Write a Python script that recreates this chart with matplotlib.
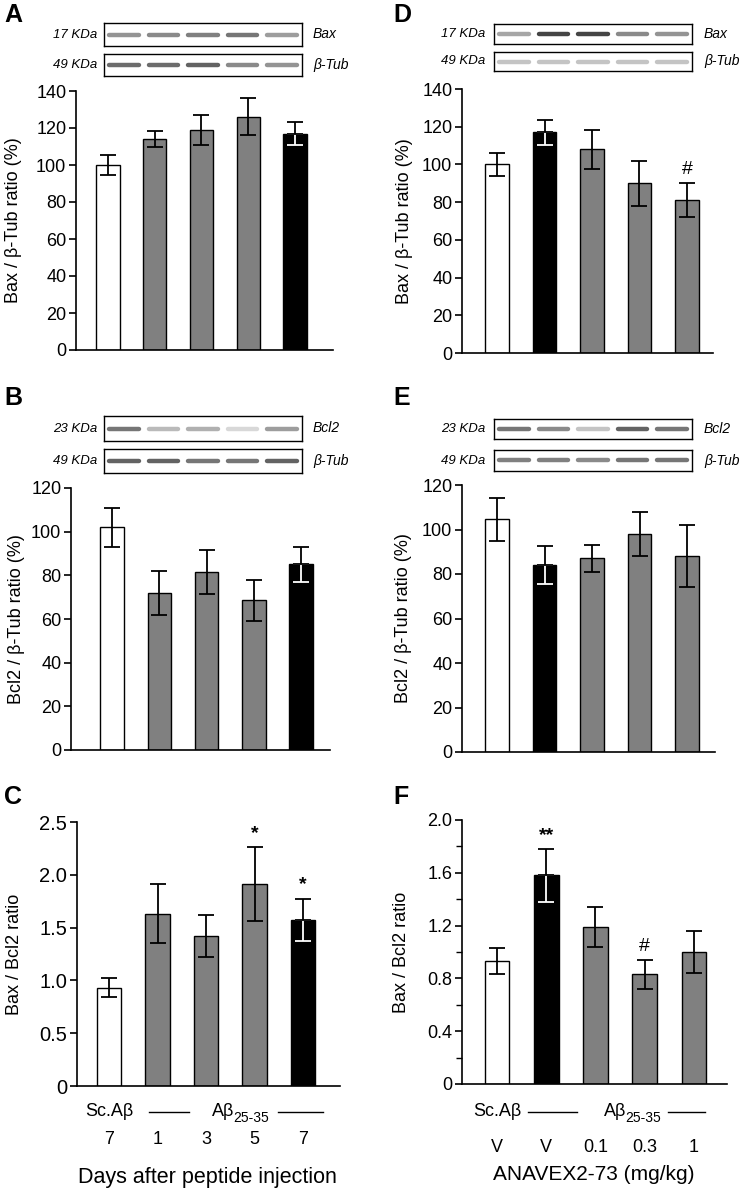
import matplotlib
matplotlib.use("Agg")
import matplotlib.pyplot as plt
from matplotlib.transforms import blended_transform_factory
from matplotlib.ticker import MultipleLocator

plt.rcParams['font.family'] = ['Liberation Sans', 'DejaVu Sans']

# ---------------- data ----------------
groups = ["Sc.Aβ", "Aβ25-35", "Aβ25-35", "Aβ25-35", "Aβ25-35"]
days = ["7", "1", "3", "5", "7"]
doses = ["V", "V", "0.1", "0.3", "1"]

bax_A = [100, 114, 119, 126, 117]
bax_A_err = [5.5, 4.5, 8, 10, 6]
bcl2_B = [102, 72, 81.5, 68.5, 85]
bcl2_B_err = [9, 10, 10, 9.5, 8]
ratio_C = [0.93, 1.63, 1.42, 1.91, 1.575]
ratio_C_err = [0.09, 0.28, 0.2, 0.35, 0.2]
sig_C = ["", "", "", "*", "*"]

bax_D = [100, 117, 108, 90, 81]
bax_D_err = [6, 6.5, 10.5, 12, 9]
sig_D = ["", "", "", "", "#"]
bcl2_E = [104.5, 84, 87, 98, 88]
bcl2_E_err = [9.5, 8.5, 6, 10, 14]
ratio_F = [0.93, 1.58, 1.19, 0.83, 1.0]
ratio_F_err = [0.1, 0.2, 0.15, 0.11, 0.16]
sig_F = ["", "**", "", "#", ""]

# blot band intensities (0 = none, 1 = black)
blot_A_bax = [0.55, 0.6, 0.65, 0.7, 0.5]
blot_A_tub = [0.75, 0.75, 0.8, 0.6, 0.55]
blot_B_bcl2 = [0.7, 0.35, 0.4, 0.2, 0.5]
blot_B_tub = [0.8, 0.8, 0.7, 0.7, 0.8]
blot_D_bax = [0.45, 0.95, 0.95, 0.6, 0.55]
blot_D_tub = [0.3, 0.3, 0.3, 0.3, 0.3]
blot_E_bcl2 = [0.7, 0.6, 0.3, 0.8, 0.7]
blot_E_tub = [0.65, 0.65, 0.6, 0.7, 0.7]

W, H = 750, 1197
fig = plt.figure(figsize=(W / 100, H / 100), dpi=100)

WHITE, GRAY, BLACK = "#ffffff", "#808080", "#000000"
left_colors = [WHITE, GRAY, GRAY, GRAY, BLACK]
right_colors = [WHITE, BLACK, GRAY, GRAY, GRAY]
CAP = 5.5


def px_axes(l, t, r, b):
    return fig.add_axes([l / W, 1 - b / H, (r - l) / W, (b - t) / H])


def bar_panel(box, xlim, ylim, yticks, ticklabels, vals, errs, colors, ylabel,
              label_x, letter, letter_xy, sig=None, minor=None, tick_fs=13):
    ax = px_axes(*box)
    x = list(range(len(vals)))
    ax.bar(x, vals, width=0.5, color=colors, edgecolor="black", linewidth=1.0, zorder=2)
    for i, (v, e, c) in enumerate(zip(vals, errs, colors)):
        if c == BLACK:
            ax.errorbar([i], [v], yerr=[[e], [0]], color="white", capsize=CAP,
                        elinewidth=1.3, capthick=1.3, zorder=3)
            ax.errorbar([i], [v], yerr=[[0], [e]], color="black", capsize=CAP,
                        elinewidth=1.3, capthick=1.3, zorder=3)
        else:
            ax.errorbar([i], [v], yerr=[[e], [e]], color="black", capsize=CAP,
                        elinewidth=1.3, capthick=1.3, zorder=3)
        if sig and sig[i]:
            ax.text(i, v + e + (ylim[1] * 0.02), sig[i], ha="center", va="bottom",
                    fontsize=14, fontweight="bold" if "*" in sig[i] else "normal")
    ax.set_xlim(*xlim)
    ax.set_ylim(*ylim)
    ax.set_yticks(yticks)
    ax.set_yticklabels(ticklabels, fontsize=tick_fs)
    if minor:
        ax.yaxis.set_minor_locator(MultipleLocator(minor))
        ax.tick_params(axis="y", which="minor", length=4, width=1.0)
    ax.set_xticks([])
    for s in ["top", "right"]:
        ax.spines[s].set_visible(False)
    ax.spines["left"].set_linewidth(1.2)
    ax.spines["bottom"].set_linewidth(1.2)
    ax.tick_params(axis="y", length=5, width=1.2, pad=2)
    ax.set_ylabel(ylabel, fontsize=13)
    cy = 1 - ((box[1] + box[3]) / 2) / H
    ax.yaxis.set_label_coords(label_x / W, cy, transform=fig.transFigure)
    fig.text(letter_xy[0] / W, 1 - letter_xy[1] / H, letter, fontsize=18,
             fontweight="bold", ha="left", va="center")
    return ax


def blot(box, intens, kda, name, kx, nx):
    ax = px_axes(*box)
    ax.set_xlim(0, 1)
    ax.set_ylim(0, 1)
    ax.set_xticks([])
    ax.set_yticks([])
    for s in ax.spines.values():
        s.set_linewidth(1.0)
    n = len(intens)
    for i, it in enumerate(intens):
        c = (i + 0.5) / n
        g = 1 - it * 0.85
        ax.plot([c - 0.075, c + 0.075], [0.5, 0.5], color=(g, g, g), lw=3.2,
                solid_capstyle="round", alpha=0.9)
    cy = 1 - ((box[1] + box[3]) / 2) / H
    fig.text(kx / W, cy, kda, fontsize=9.5, style="italic", ha="right", va="center")
    fig.text(nx / W, cy, name, fontsize=10, style="italic", ha="left", va="center")


def bottom_labels(ax, sc_x, ab_x, line1, line2, yrow1, numbers, yrow2, title, title_x,
                  ytitle, title_fs):
    tr = blended_transform_factory(ax.transData, fig.transFigure)
    fy1 = 1 - yrow1 / H
    ax.text(sc_x, fy1, "Sc.Aβ", transform=tr, ha="center", va="center", fontsize=13,
            clip_on=False)
    ax.annotate("Aβ", xy=(ab_x, fy1), xycoords=tr, ha="right", va="center", fontsize=13,
                xytext=(1, 0), textcoords="offset points", annotation_clip=False)
    ax.annotate("25-35", xy=(ab_x, fy1), xycoords=tr, ha="left", va="center", fontsize=10,
                xytext=(0, -4.5), textcoords="offset points", annotation_clip=False)
    for (a, b) in (line1, line2):
        ax.plot([a, b], [fy1, fy1], transform=tr, color="black", lw=1.0, clip_on=False)
    fy2 = 1 - yrow2 / H
    for i, t in enumerate(numbers):
        ax.text(i, fy2, t, transform=tr, ha="center", va="center", fontsize=13, clip_on=False)
    fig.text(title_x / W, 1 - ytitle / H, title, ha="center", va="center", fontsize=title_fs)


# ---------- left column ----------
blot((104, 23, 302, 46), blot_A_bax, "17 KDa", "Bax", 97, 313)
blot((104, 54, 302, 76), blot_A_tub, "49 KDa", "β-Tub", 97, 313)
bar_panel((76, 91, 333, 350), (-0.68, 4.81), (0, 140), list(range(0, 141, 20)),
          [str(v) for v in range(0, 141, 20)], bax_A, bax_A_err, left_colors,
          "Bax / β-Tub ratio (%)", 22, "A", (4, 15))

blot((104, 416, 302, 441), blot_B_bcl2, "23 KDa", "Bcl2", 97, 313)
blot((104, 449, 302, 473), blot_B_tub, "49 KDa", "β-Tub", 97, 313)
bar_panel((71, 488, 330, 750), (-0.87, 4.61), (0, 120), list(range(0, 121, 20)),
          [str(v) for v in range(0, 121, 20)], bcl2_B, bcl2_B_err, left_colors,
          "Bcl2 / β-Tub ratio (%)", 25, "B", (4, 398))

axC = bar_panel((77, 822, 340, 1086), (-0.66, 4.76), (0, 2.5),
                [0, 0.5, 1.0, 1.5, 2.0, 2.5], ["0", "0.5", "1.0", "1.5", "2.0", "2.5"],
                ratio_C, ratio_C_err, left_colors, "Bax / Bcl2 ratio", 23, "C", (4, 797),
                sig=sig_C, tick_fs=14.5)
bottom_labels(axC, 0, 2.56, (0.82, 1.65), (3.48, 4.41), 1112, days, 1140,
              "Days after peptide injection", 207, 1178, 15.5)

# ---------- right column ----------
blot((494, 24, 692, 44), blot_D_bax, "17 KDa", "Bax", 485, 704)
blot((494, 52, 692, 71), blot_D_tub, "49 KDa", "β-Tub", 485, 704)
bar_panel((462, 89, 713, 353), (-0.74, 4.55), (0, 140), list(range(0, 141, 20)),
          [str(v) for v in range(0, 141, 20)], bax_D, bax_D_err, right_colors,
          "Bax / β-Tub ratio (%)", 413, "D", (393, 15), sig=sig_D)

blot((494, 419, 692, 439), blot_E_bcl2, "23 KDa", "Bcl2", 485, 704)
blot((494, 450, 692, 471), blot_E_tub, "49 KDa", "β-Tub", 485, 704)
bar_panel((462, 485, 715, 752), (-0.74, 4.59), (0, 120), list(range(0, 121, 20)),
          [str(v) for v in range(0, 121, 20)], bcl2_E, bcl2_E_err, right_colors,
          "Bcl2 / β-Tub ratio (%)", 412, "E", (393, 398))

axF = bar_panel((462, 820, 727, 1084), (-0.71, 4.67), (0, 2.0),
                [0, 0.4, 0.8, 1.2, 1.6, 2.0], ["0", "0.4", "0.8", "1.2", "1.6", "2.0"],
                ratio_F, ratio_F_err, right_colors, "Bax / Bcl2 ratio", 410, "F", (393, 797),
                sig=sig_F, minor=0.2)
bottom_labels(axF, 0, 2.6, (0.63, 1.63), (3.47, 4.23), 1112, doses, 1147,
              "ANAVEX2-73 (mg/kg)", 594, 1175, 15)

fig.savefig("out.png", dpi=100)
